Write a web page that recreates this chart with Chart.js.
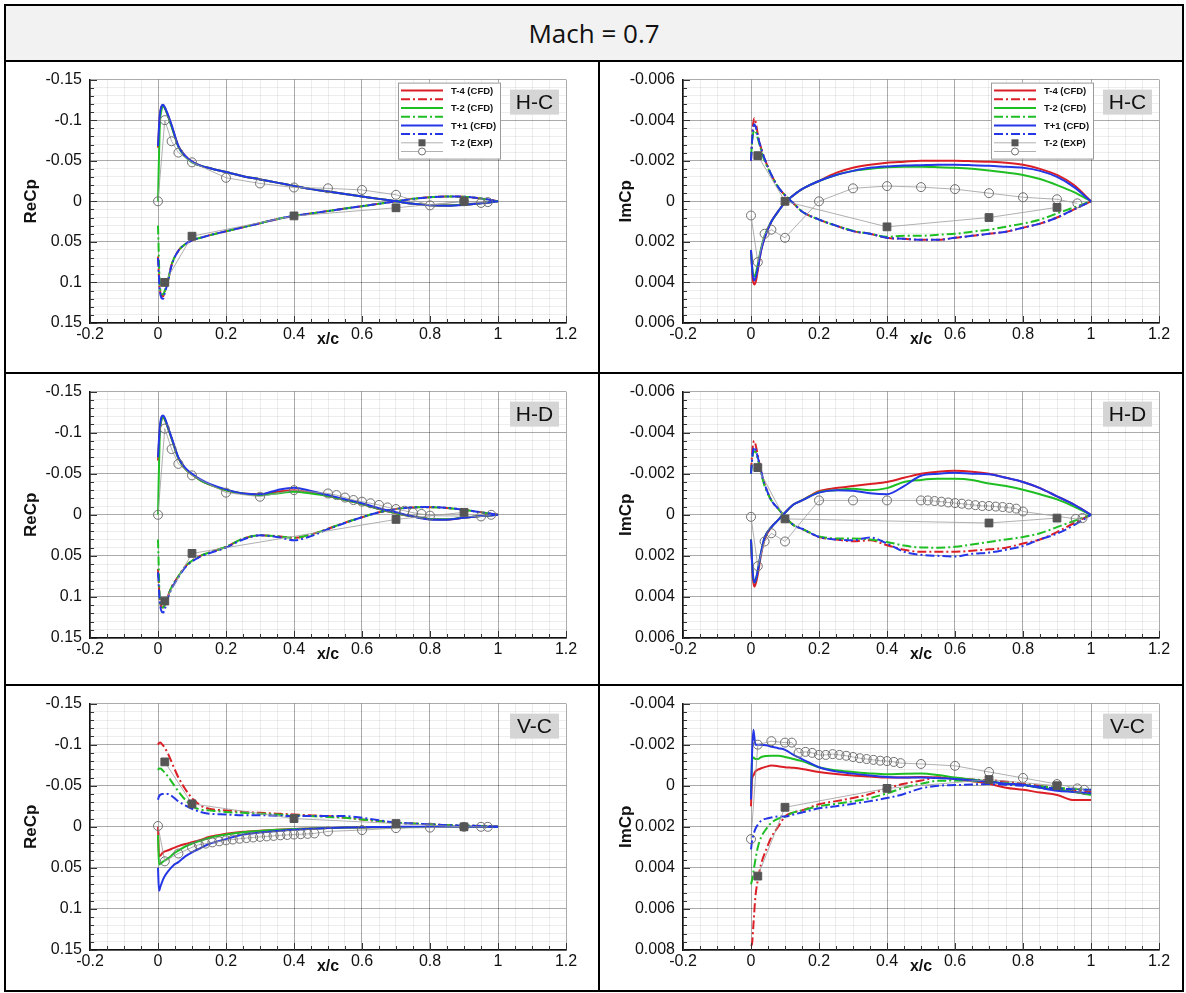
<!DOCTYPE html>
<html>
<head>
<meta charset="utf-8">
<title>Mach = 0.7</title>
<script src="https://cdn.jsdelivr.net/npm/chart.js@4.4.1/dist/chart.umd.min.js"></script>
<style>
  body { margin: 0; background: #fff; }
  #sheet { position: relative; width: 1186px; height: 993px; overflow: hidden; }
  #head { position: absolute; left: 6px; top: 6px; width: 1176px; height: 54px; background: #f2f2f2;
          display: flex; align-items: center; justify-content: center;
          font: 26px "Liberation Sans Narrow", "Open Sans", sans-serif; color: #111; }
  .rule { position: absolute; background: #000; }
  canvas { position: absolute; }
</style>
</head>
<body>
<div id="sheet">
  <div id="head">Mach = 0.7</div>
  <canvas id="p1" width="592" height="310" style="left:6px;top:62px"></canvas>
  <canvas id="p2" width="582" height="310" style="left:600px;top:62px"></canvas>
  <canvas id="p3" width="592" height="310" style="left:6px;top:374px"></canvas>
  <canvas id="p4" width="582" height="310" style="left:600px;top:374px"></canvas>
  <canvas id="p5" width="592" height="304" style="left:6px;top:686px"></canvas>
  <canvas id="p6" width="582" height="304" style="left:600px;top:686px"></canvas>
  <div class="rule" style="left:4px;top:4px;width:1180px;height:2px"></div>
  <div class="rule" style="left:4px;top:4px;width:2px;height:988px"></div>
  <div class="rule" style="left:1182px;top:4px;width:2px;height:988px"></div>
  <div class="rule" style="left:4px;top:990px;width:1180px;height:2px"></div>
  <div class="rule" style="left:4px;top:60px;width:1180px;height:2px"></div>
  <div class="rule" style="left:4px;top:372px;width:1180px;height:2px"></div>
  <div class="rule" style="left:4px;top:684px;width:1180px;height:2px"></div>
  <div class="rule" style="left:598px;top:60px;width:2px;height:932px"></div>
</div>
<script>
// chordwise stations of the CFD curves (x/c)
const xH = [0, 0.005, 0.01, 0.015, 0.02, 0.03, 0.04, 0.06, 0.08, 0.1, 0.125, 0.15, 0.2, 0.25, 0.3, 0.35, 0.4, 0.45, 0.5, 0.55, 0.6, 0.65, 0.7, 0.75, 0.8, 0.85, 0.9, 0.95, 1.0];
const xV = [0, 0.003, 0.007, 0.013, 0.02, 0.03, 0.045, 0.06, 0.08, 0.1, 0.125, 0.15, 0.2, 0.25, 0.3, 0.35, 0.4, 0.45, 0.5, 0.55, 0.6, 0.65, 0.7, 0.75, 0.8, 0.85, 0.9, 0.95, 1.0];

// H-C, ReCp (s = solid, d = dash-dot)
const hcReT4s = [-0.066, -0.103, -0.116, -0.118, -0.115, -0.105, -0.093, -0.068, -0.056, -0.049, -0.044, -0.041, -0.036, -0.031, -0.027, -0.023, -0.019, -0.015, -0.012, -0.009, -0.006, -0.003, 0.0, 0.003, 0.0048, 0.0053, 0.0043, 0.0024, 0];
const hcReT4d = [0.068, 0.106, 0.116, 0.117, 0.111, 0.097, 0.078, 0.061, 0.053, 0.048, 0.045, 0.042, 0.037, 0.032, 0.027, 0.022, 0.018, 0.015, 0.012, 0.009, 0.006, 0.003, 0.0, -0.003, -0.005, -0.0058, -0.0055, -0.0035, 0];
const hcReT2s = [0.0, -0.09, -0.112, -0.117, -0.115, -0.104, -0.092, -0.067, -0.055, -0.048, -0.044, -0.041, -0.036, -0.031, -0.027, -0.023, -0.019, -0.015, -0.012, -0.009, -0.006, -0.003, 0.0, 0.003, 0.0048, 0.0053, 0.0043, 0.0024, 0];
const hcReT2d = [0.03, 0.1, 0.113, 0.115, 0.11, 0.096, 0.078, 0.061, 0.053, 0.048, 0.045, 0.042, 0.037, 0.032, 0.027, 0.022, 0.018, 0.015, 0.012, 0.009, 0.006, 0.003, 0.0, -0.003, -0.005, -0.0058, -0.0055, -0.0035, 0];
const hcReT1s = [-0.068, -0.105, -0.117, -0.119, -0.116, -0.106, -0.094, -0.068, -0.056, -0.049, -0.044, -0.041, -0.036, -0.031, -0.027, -0.023, -0.019, -0.015, -0.012, -0.009, -0.006, -0.003, 0.0, 0.003, 0.005, 0.0055, 0.0045, 0.0025, 0];
const hcReT1d = [0.07, 0.108, 0.119, 0.12, 0.113, 0.098, 0.079, 0.061, 0.053, 0.048, 0.045, 0.042, 0.037, 0.032, 0.027, 0.022, 0.018, 0.015, 0.012, 0.009, 0.006, 0.003, 0.0, -0.003, -0.005, -0.006, -0.0057, -0.0036, 0];
const hcReSqX = [0.02, 0.1, 0.4, 0.7, 0.9];
const hcReSqY = [0.1, 0.043, 0.018, 0.008, 0.0];
const hcReCiX = [0, 0.02, 0.04, 0.06, 0.1, 0.2, 0.3, 0.4, 0.5, 0.6, 0.7, 0.8, 0.9, 0.95, 0.97];
const hcReCiY = [0, -0.1, -0.074, -0.06, -0.048, -0.029, -0.022, -0.017, -0.016, -0.014, -0.008, 0.005, 0.0, 0.002, 0.001];

// H-C, ImCp
const hcImT4s = [0.0024, 0.0038, 0.0041, 0.0039, 0.0034, 0.0024, 0.0018, 0.001, 0.0005, 0.00005, -0.0003, -0.0006, -0.001, -0.0014, -0.00165, -0.0018, -0.0019, -0.00195, -0.002, -0.002, -0.002, -0.00198, -0.00195, -0.0019, -0.0018, -0.0016, -0.0013, -0.0008, 0];
const hcImT4d = [-0.002, -0.0036, -0.0041, -0.0038, -0.0033, -0.0026, -0.0021, -0.0013, -0.0007, -0.0003, 0.0001, 0.0005, 0.0009, 0.0012, 0.00147, 0.0016, 0.0018, 0.00185, 0.0019, 0.0019, 0.0018, 0.0017, 0.0016, 0.0015, 0.0013, 0.0011, 0.0008, 0.0004, 0];
const hcImT2s = [0.0025, 0.0035, 0.0037, 0.0035, 0.0031, 0.0023, 0.0017, 0.001, 0.0005, 0.00005, -0.0003, -0.0006, -0.001, -0.0013, -0.0015, -0.0016, -0.00168, -0.0017, -0.0017, -0.00168, -0.00165, -0.0016, -0.00152, -0.00142, -0.0013, -0.0011, -0.0008, -0.00045, 0];
const hcImT2d = [-0.0022, -0.0032, -0.0035, -0.0034, -0.0031, -0.0025, -0.002, -0.0013, -0.0007, -0.0003, 0.0001, 0.0005, 0.0009, 0.0012, 0.00145, 0.0016, 0.00175, 0.0017, 0.0017, 0.00165, 0.0016, 0.0015, 0.0014, 0.00125, 0.0011, 0.0009, 0.0006, 0.0003, 0];
const hcImT1s = [0.0024, 0.0036, 0.0039, 0.0037, 0.0033, 0.0024, 0.0018, 0.001, 0.0005, 0.00005, -0.0003, -0.0006, -0.001, -0.0013, -0.0015, -0.00165, -0.00172, -0.00176, -0.00178, -0.0018, -0.0018, -0.00178, -0.00175, -0.0017, -0.00165, -0.0015, -0.0012, -0.0007, 0];
const hcImT1d = [-0.002, -0.0034, -0.0038, -0.0036, -0.0032, -0.0026, -0.0021, -0.0013, -0.0007, -0.0003, 0.0001, 0.0005, 0.0009, 0.0012, 0.00147, 0.0016, 0.0018, 0.00185, 0.0019, 0.0019, 0.0018, 0.0017, 0.0016, 0.0015, 0.0013, 0.0011, 0.0008, 0.0004, 0];
const hcImSqX = [0.02, 0.1, 0.4, 0.7, 0.9];
const hcImSqY = [-0.00225, 0.0, 0.00126, 0.0008, 0.0003];
const hcImCiX = [0, 0.02, 0.04, 0.06, 0.1, 0.2, 0.3, 0.4, 0.5, 0.6, 0.7, 0.8, 0.9, 0.96];
const hcImCiY = [0.0007, 0.003, 0.0016, 0.0014, 0.0018, 0.0, -0.00064, -0.00075, -0.0007, -0.0006, -0.0004, -0.0002, -0.0001, 0.0001];

// H-D, ReCp
const hdReT4s = [-0.066, -0.102, -0.116, -0.119, -0.116, -0.105, -0.093, -0.069, -0.056, -0.049, -0.042, -0.037, -0.03, -0.026, -0.025, -0.028, -0.03, -0.027, -0.023, -0.018, -0.013, -0.007, -0.002, 0.002, 0.0052, 0.0058, 0.0035, 0.0015, 0];
const hdReT4d = [0.066, 0.102, 0.112, 0.113, 0.11, 0.098, 0.088, 0.075, 0.063, 0.056, 0.05, 0.046, 0.039, 0.029, 0.025, 0.026, 0.028, 0.024, 0.017, 0.0095, 0.003, -0.003, -0.007, -0.009, -0.0093, -0.0083, -0.006, -0.003, 0];
const hdReT2s = [0.0, -0.095, -0.115, -0.119, -0.116, -0.105, -0.093, -0.069, -0.056, -0.049, -0.042, -0.037, -0.03, -0.026, -0.024, -0.026, -0.028, -0.026, -0.023, -0.018, -0.013, -0.007, -0.002, 0.002, 0.005, 0.0055, 0.0034, 0.0014, 0];
const hdReT2d = [0.03, 0.1, 0.112, 0.113, 0.11, 0.098, 0.088, 0.075, 0.063, 0.056, 0.05, 0.046, 0.039, 0.029, 0.025, 0.026, 0.028, 0.024, 0.017, 0.0095, 0.003, -0.003, -0.007, -0.009, -0.0093, -0.0083, -0.006, -0.003, 0];
const hdReT1s = [-0.07, -0.105, -0.119, -0.121, -0.118, -0.106, -0.094, -0.07, -0.057, -0.05, -0.043, -0.038, -0.031, -0.026, -0.025, -0.03, -0.033, -0.029, -0.024, -0.019, -0.014, -0.008, -0.003, 0.002, 0.0056, 0.006, 0.0036, 0.0015, 0];
const hdReT1d = [0.07, 0.105, 0.117, 0.119, 0.115, 0.1, 0.09, 0.076, 0.064, 0.057, 0.051, 0.047, 0.04, 0.03, 0.025, 0.027, 0.031, 0.026, 0.0175, 0.01, 0.003, -0.003, -0.007, -0.009, -0.0095, -0.0085, -0.006, -0.003, 0];
const hdReSqX = [0.02, 0.1, 0.7, 0.9];
const hdReSqY = [0.105, 0.047, 0.0056, -0.003];
const hdReCiX = [0, 0.02, 0.04, 0.06, 0.1, 0.2, 0.3, 0.4, 0.5, 0.525, 0.55, 0.575, 0.6, 0.625, 0.65, 0.675, 0.7, 0.725, 0.75, 0.775, 0.8, 0.95, 0.98];
const hdReCiY = [0, -0.105, -0.08, -0.062, -0.048, -0.027, -0.022, -0.03, -0.026, -0.024, -0.021, -0.018, -0.016, -0.014, -0.012, -0.009, -0.007, -0.005, -0.0025, -0.001, 0.001, 0.002, 0.0];

// H-D, ImCp
const hdImT4s = [0.0012, 0.003, 0.0035, 0.0033, 0.0029, 0.0019, 0.0012, 0.0006, 0.00025, -0.0001, -0.0005, -0.0007, -0.00115, -0.0013, -0.0014, -0.0015, -0.0016, -0.0018, -0.002, -0.0021, -0.00214, -0.0021, -0.002, -0.0018, -0.0016, -0.0013, -0.0009, -0.0005, 0];
const hdImT4d = [-0.0021, -0.0033, -0.0036, -0.0033, -0.0029, -0.0021, -0.0015, -0.0007, -0.0003, 0.0001, 0.0005, 0.00068, 0.00108, 0.0012, 0.00129, 0.00124, 0.00148, 0.0017, 0.0018, 0.0018, 0.0018, 0.00175, 0.00168, 0.0016, 0.0014, 0.0012, 0.00084, 0.0004, 0];
const hdImT2s = [0.0012, 0.0028, 0.0033, 0.0031, 0.0027, 0.0018, 0.0011, 0.0006, 0.00025, -0.0001, -0.0005, -0.0007, -0.0011, -0.0012, -0.00127, -0.0012, -0.0013, -0.0016, -0.0017, -0.00175, -0.00175, -0.0017, -0.00152, -0.0014, -0.00122, -0.001, -0.00075, -0.0004, 0];
const hdImT2d = [-0.002, -0.0029, -0.0031, -0.003, -0.0027, -0.002, -0.0014, -0.0007, -0.0003, 0.0001, 0.0005, 0.00068, 0.00105, 0.00115, 0.00116, 0.0012, 0.00132, 0.0015, 0.00159, 0.0016, 0.00156, 0.00145, 0.00132, 0.0012, 0.00108, 0.0009, 0.0006, 0.0003, 0];
const hdImT1s = [0.0012, 0.0028, 0.0033, 0.0031, 0.0027, 0.0018, 0.0011, 0.0006, 0.00025, -0.0001, -0.0005, -0.0007, -0.00108, -0.0012, -0.00117, -0.00105, -0.001, -0.0014, -0.0019, -0.002, -0.00205, -0.002, -0.00197, -0.0018, -0.0016, -0.0013, -0.0009, -0.0005, 0];
const hdImT1d = [-0.002, -0.003, -0.0033, -0.0031, -0.0028, -0.0021, -0.0015, -0.0007, -0.0003, 0.0001, 0.0005, 0.00068, 0.00108, 0.0012, 0.00124, 0.0011, 0.0014, 0.0018, 0.00195, 0.002, 0.00203, 0.0019, 0.00184, 0.0017, 0.00152, 0.0012, 0.00092, 0.0005, 0];
const hdImSqX = [0.02, 0.1, 0.7, 0.9];
const hdImSqY = [-0.0023, 0.0002, 0.0004, 0.00016];
const hdImCiX = [0, 0.02, 0.04, 0.06, 0.1, 0.2, 0.3, 0.4, 0.5, 0.52, 0.54, 0.56, 0.58, 0.6, 0.62, 0.64, 0.66, 0.68, 0.7, 0.72, 0.74, 0.76, 0.78, 0.8, 0.955, 0.975];
const hdImCiY = [0.0001, 0.0025, 0.0013, 0.0009, 0.0013, -0.0007, -0.0007, -0.0007, -0.0007, -0.0007, -0.00067, -0.00064, -0.0006, -0.00057, -0.00054, -0.0005, -0.00047, -0.00043, -0.00043, -0.0004, -0.00038, -0.00034, -0.0003, -0.00016, 0.0002, 0.00016];

// V-C, ReCp
const vcReT4s = [0.0, 0.036, 0.035, 0.032, 0.03, 0.0286, 0.026, 0.0235, 0.021, 0.0188, 0.016, 0.0125, 0.0085, 0.006, 0.0047, 0.0036, 0.0028, 0.002, 0.0015, 0.001, 0.0008, 0.0006, 0.0004, 0.0003, 0.0002, 0.0001, 0.0, 0.0, 0];
const vcReT4d = [-0.1, -0.102, -0.1025, -0.1, -0.096, -0.0885, -0.074, -0.06, -0.046, -0.035, -0.026, -0.022, -0.02, -0.018, -0.017, -0.016, -0.015, -0.014, -0.013, -0.011, -0.009, -0.007, -0.005, -0.004, -0.003, -0.002, -0.0015, -0.001, 0];
const vcReT2s = [0.01, 0.046, 0.045, 0.043, 0.041, 0.0385, 0.033, 0.029, 0.024, 0.0205, 0.017, 0.0137, 0.0095, 0.0065, 0.005, 0.0037, 0.0028, 0.002, 0.0015, 0.001, 0.0008, 0.0006, 0.0004, 0.0003, 0.0002, 0.0001, 0.0, 0.0, 0];
const vcReT2d = [-0.069, -0.071, -0.071, -0.069, -0.066, -0.061, -0.052, -0.043, -0.033, -0.025, -0.021, -0.02, -0.018, -0.017, -0.016, -0.015, -0.014, -0.013, -0.012, -0.011, -0.009, -0.007, -0.005, -0.004, -0.003, -0.002, -0.0015, -0.001, 0];
const vcReT1s = [0.05, 0.078, 0.073, 0.066, 0.06, 0.054, 0.047, 0.043, 0.036, 0.031, 0.026, 0.021, 0.015, 0.0095, 0.007, 0.005, 0.0036, 0.0025, 0.0015, 0.0008, 0.0004, 0.0002, 0.0, 0.0, 0.0, 0.0, 0.0, 0.0, 0];
const vcReT1d = [-0.033, -0.037, -0.039, -0.04, -0.04, -0.04, -0.036, -0.031, -0.026, -0.022, -0.018, -0.016, -0.015, -0.014, -0.014, -0.0135, -0.013, -0.013, -0.013, -0.013, -0.011, -0.008, -0.005, -0.004, -0.003, -0.002, -0.0015, -0.001, 0];
const vcReSqX = [0.02, 0.1, 0.4, 0.7, 0.9];
const vcReSqY = [-0.079, -0.028, -0.01, -0.004, 0.0];
const vcReCiX = [0, 0.02, 0.06, 0.1, 0.12, 0.14, 0.16, 0.18, 0.2, 0.22, 0.24, 0.26, 0.28, 0.3, 0.32, 0.34, 0.36, 0.38, 0.4, 0.42, 0.44, 0.46, 0.5, 0.6, 0.7, 0.8, 0.9, 0.95, 0.97];
const vcReCiY = [-0.001, 0.042, 0.0325, 0.025, 0.0218, 0.0205, 0.019, 0.0177, 0.0165, 0.0155, 0.0145, 0.0137, 0.013, 0.0123, 0.0117, 0.0111, 0.0104, 0.0099, 0.0094, 0.009, 0.0086, 0.0081, 0.0056, 0.004, 0.0016, 0.001, 0.0, 0.0, 0.0];

// V-C, ImCp
const vcImT4s = [0.001, -0.0003, -0.0005, -0.0007, -0.00078, -0.00085, -0.00093, -0.00098, -0.00095, -0.0009, -0.00087, -0.00082, -0.00067, -0.00057, -0.0005, -0.00045, -0.0004, -0.0004, -0.00043, -0.0004, -0.00033, -0.00022, -0.0001, 0.0001, 0.0002, 0.00033, 0.00045, 0.0007, 0.0007];
const vcImT4d = [0.0078, 0.0077, 0.0068, 0.0054, 0.0046, 0.0038, 0.0031, 0.0025, 0.002, 0.0015, 0.0013, 0.0012, 0.0009, 0.00075, 0.0006, 0.0004, 0.00013, -0.0001, -0.00025, -0.0004, -0.00038, -0.0003, -0.00027, -0.0002, -0.0001, 0.0, 0.00013, 0.00022, 0.0003];
const vcImT2s = [0.0005, -0.0012, -0.00138, -0.0013, -0.0013, -0.0014, -0.00145, -0.00146, -0.00146, -0.0014, -0.0013, -0.0012, -0.0009, -0.00075, -0.00067, -0.0006, -0.00056, -0.00058, -0.00059, -0.00052, -0.0004, -0.0003, -0.0002, -0.0001, -0.00003, 0.0001, 0.00018, 0.0003, 0.00045];
const vcImT2d = [0.0048, 0.0046, 0.0042, 0.0036, 0.003, 0.0025, 0.0021, 0.0018, 0.0016, 0.0015, 0.0013, 0.0012, 0.001, 0.00088, 0.00076, 0.0006, 0.00037, 0.0001, -0.0001, -0.00024, -0.00025, -0.00023, -0.0002, -0.00012, -0.00005, 0.00003, 0.0001, 0.00015, 0.0002];
const vcImT1s = [0.00067, -0.0015, -0.00273, -0.002, -0.002, -0.002, -0.00197, -0.0019, -0.00183, -0.00175, -0.0015, -0.0013, -0.0009, -0.0007, -0.00059, -0.0005, -0.00043, -0.0004, -0.0004, -0.00038, -0.00033, -0.00027, -0.0002, -0.0001, -0.00005, 0.0001, 0.00024, 0.0003, 0.00037];
const vcImT1d = [0.0031, 0.0027, 0.0024, 0.0021, 0.0019, 0.0017, 0.0016, 0.00155, 0.0015, 0.0015, 0.0014, 0.0013, 0.0011, 0.001, 0.00088, 0.00075, 0.0006, 0.0004, 0.00013, 0.0, -0.00003, -0.00006, -0.00008, -0.00005, 0.0, 0.00005, 0.00013, 0.00017, 0.0002];
const vcImSqX = [0.02, 0.1, 0.4, 0.7, 0.9];
const vcImSqY = [0.0044, 0.00105, 0.00013, -0.0003, 0.0];
const vcImCiX = [0, 0.02, 0.06, 0.1, 0.12, 0.14, 0.16, 0.18, 0.2, 0.22, 0.24, 0.26, 0.28, 0.3, 0.32, 0.34, 0.36, 0.38, 0.4, 0.42, 0.44, 0.5, 0.6, 0.7, 0.8, 0.9, 0.96, 0.98];
const vcImCiY = [0.0026, -0.002, -0.00217, -0.0021, -0.0021, -0.0016, -0.00165, -0.0016, -0.0015, -0.0015, -0.00154, -0.0015, -0.00146, -0.0014, -0.00134, -0.0013, -0.00126, -0.00122, -0.0012, -0.00116, -0.0011, -0.00106, -0.00097, -0.00067, -0.00038, -0.00008, 0.00013, 0.0002];

const xTicks = [-0.2, 0, 0.2, 0.4, 0.6, 0.8, 1, 1.2];

const FONT = '"Liberation Sans", Arial, Helvetica, sans-serif';
Chart.defaults.font.family = FONT;
Chart.defaults.color = '#111';

const RED = '#db1f26', GREEN = '#1fbf24', BLUE = '#2436e6';
const DASH = [9, 3, 2, 3];
const MAJOR_GRID = 'rgba(0,0,0,0.33)', MINOR_GRID = 'rgba(0,0,0,0.07)';

const xy = (xs, ys) => xs.map((x, i) => ({ x, y: ys[i] }));
const isMajor = (v, step) => Math.abs(v / step - Math.round(v / step)) < 1e-6;
const fmt = v => String(+v.toFixed(6));

function cfd(label, color, xs, ys, dashed, row, order) {
  return {
    label, data: xy(xs, ys), borderColor: color, backgroundColor: color,
    borderWidth: 2, borderDash: dashed ? DASH : [], pointRadius: 0,
    cubicInterpolationMode: 'monotone', order, legendRow: row,
    legendText: dashed ? null : label
  };
}

function exp(xs, ys, style, row) {
  const sq = style === 'rect';
  return {
    label: 'T-2 (EXP)', data: xy(xs, ys), borderColor: '#9c9c9c', borderWidth: 0.8,
    pointStyle: style, pointRadius: sq ? 5.5 : 4.5,
    pointBackgroundColor: sq ? '#555' : 'rgba(255,255,255,0)',
    pointBorderColor: sq ? '#555' : '#707070', pointBorderWidth: 1,
    tension: 0, order: 0, legendRow: row, legendText: sq ? 'T-2 (EXP)' : null
  };
}

const panelDecor = {
  id: 'panelDecor',
  afterDatasetsDraw(chart, args, opts) {
    const { ctx, chartArea: a, scales } = chart;
    ctx.save();
    // inward tick marks on left and bottom axes
    ctx.strokeStyle = '#333';
    ctx.lineWidth = 1;
    ctx.beginPath();
    scales.y.ticks.forEach(t => {
      const p = Math.round(scales.y.getPixelForValue(t.value)) + 0.5;
      const len = isMajor(t.value, opts.yMajor) ? 7 : 4;
      ctx.moveTo(a.left, p); ctx.lineTo(a.left + len, p);
    });
    scales.x.ticks.forEach(t => {
      const p = Math.round(scales.x.getPixelForValue(t.value)) + 0.5;
      const len = isMajor(t.value, 0.2) ? 7 : 4;
      ctx.moveTo(p, a.bottom); ctx.lineTo(p, a.bottom - len);
    });
    ctx.stroke();

    // configuration tag (H-C, H-D, V-C)
    ctx.fillStyle = '#d5d5d5';
    ctx.fillRect(a.right - 56, a.top + 10, 49, 25);
    ctx.fillStyle = '#111';
    ctx.font = '21px ' + FONT;
    ctx.textAlign = 'center';
    ctx.textBaseline = 'middle';
    ctx.fillText(opts.tag, a.right - 31.5, a.top + 23.5);

    if (opts.legend) {
      const bx = a.right - 168, by = a.top + 3, bw = 102, bh = 76;
      ctx.fillStyle = '#fff';
      ctx.fillRect(bx, by, bw, bh);
      ctx.strokeStyle = '#9a9a9a';
      ctx.strokeRect(bx + 0.5, by + 0.5, bw, bh);
      ctx.font = 'bold 9.5px ' + FONT;
      ctx.textAlign = 'left';
      chart.data.datasets.forEach(ds => {
        const y = by + 8 + ds.legendRow * 8.7;
        ctx.setLineDash(ds.borderDash || []);
        ctx.strokeStyle = ds.borderColor;
        ctx.lineWidth = ds.borderWidth;
        ctx.beginPath();
        ctx.moveTo(bx + 3, y); ctx.lineTo(bx + 45, y);
        ctx.stroke();
        ctx.setLineDash([]);
        if (ds.pointStyle === 'rect') {
          ctx.fillStyle = ds.pointBackgroundColor;
          ctx.fillRect(bx + 20.5, y - 3.5, 7, 7);
        } else if (ds.pointStyle) {
          ctx.fillStyle = '#fff';
          ctx.strokeStyle = ds.pointBorderColor;
          ctx.lineWidth = 1;
          ctx.beginPath();
          ctx.arc(bx + 24, y, 3.5, 0, Math.PI * 2);
          ctx.fill(); ctx.stroke();
        }
        if (ds.legendText) {
          ctx.fillStyle = '#111';
          ctx.fillText(ds.legendText, bx + 53, y + 0.5);
        }
      });
    }
    ctx.restore();
  }
};

const ROWS = [
  { padTop: 11, plotH: 250, canvasH: 310 },
  { padTop: 12, plotH: 252, canvasH: 310 },
  { padTop: 12, plotH: 252, canvasH: 304 }
];
const COLS = [
  { yW: 84, padRight: 32, titlePad: 15 },
  { yW: 83, padRight: 23, titlePad: 16 }
];
const X_AXIS_H = 26;

function build(id, row, col, p) {
  const r = ROWS[row], c = COLS[col];
  const minor = p.yMajor / 5;
  const datasets = [
    cfd('T-4 (CFD)', RED, p.xs, p.t4s, false, 0, 3),
    cfd('T-4 (CFD)', RED, p.xs, p.t4d, true, 1, 3),
    cfd('T-2 (CFD)', GREEN, p.xs, p.t2s, false, 2, 2),
    cfd('T-2 (CFD)', GREEN, p.xs, p.t2d, true, 3, 2),
    cfd('T+1 (CFD)', BLUE, p.xs, p.t1s, false, 4, 1),
    cfd('T+1 (CFD)', BLUE, p.xs, p.t1d, true, 5, 1),
    exp(p.sqX, p.sqY, 'rect', 6),
    exp(p.ciX, p.ciY, 'circle', 7)
  ];
  return new Chart(document.getElementById(id), {
    type: 'line',
    data: { datasets },
    options: {
      responsive: false,
      animation: false,
      layout: { padding: { top: r.padTop, right: c.padRight, left: 0,
                           bottom: r.canvasH - r.padTop - r.plotH - X_AXIS_H } },
      plugins: {
        legend: { display: false },
        tooltip: { enabled: false },
        panelDecor: { tag: p.tag, legend: p.legend, yMajor: p.yMajor }
      },
      scales: {
        x: {
          type: 'linear', min: -0.2, max: 1.2,
          afterFit: s => { s.height = X_AXIS_H; },
          ticks: {
            stepSize: 0.05, autoSkip: false, maxRotation: 0, padding: 2,
            font: { size: 16 }, color: '#111',
            callback: v => xTicks.some(t => Math.abs(t - v) < 1e-6) ? fmt(v) : ''
          },
          grid: {
            drawTicks: false, lineWidth: 1,
            color: ctx => isMajor(ctx.tick.value, 0.2) ? MAJOR_GRID : MINOR_GRID
          },
          border: { color: '#111', width: 1.5 },
          title: { display: true, text: 'x/c', font: { size: 16, weight: 'bold' },
                   padding: { top: 0, bottom: 0 }, color: '#111' }
        },
        y: {
          type: 'linear', reverse: true, min: p.yMin, max: p.yMax,
          afterFit: s => { s.width = c.yW; },
          ticks: {
            stepSize: minor, autoSkip: false, padding: 8,
            font: { size: 16 }, color: '#111',
            callback: v => isMajor(v, p.yMajor) ? fmt(v) : ''
          },
          grid: {
            drawTicks: false, lineWidth: 1,
            color: ctx => isMajor(ctx.tick.value, p.yMajor) ? MAJOR_GRID : MINOR_GRID
          },
          border: { color: '#111', width: 1.5 },
          title: { display: true, text: p.yTitle, font: { size: 17, weight: 'bold' },
                   padding: { top: c.titlePad, bottom: 0 }, color: '#111' }
        }
      }
    },
    plugins: [panelDecor]
  });
}

build('p1', 0, 0, { xs: xH, t4s: hcReT4s, t4d: hcReT4d, t2s: hcReT2s, t2d: hcReT2d, t1s: hcReT1s, t1d: hcReT1d,
  sqX: hcReSqX, sqY: hcReSqY, ciX: hcReCiX, ciY: hcReCiY,
  yMin: -0.15, yMax: 0.15, yMajor: 0.05, yTitle: 'ReCp', tag: 'H-C', legend: true });
build('p2', 0, 1, { xs: xH, t4s: hcImT4s, t4d: hcImT4d, t2s: hcImT2s, t2d: hcImT2d, t1s: hcImT1s, t1d: hcImT1d,
  sqX: hcImSqX, sqY: hcImSqY, ciX: hcImCiX, ciY: hcImCiY,
  yMin: -0.006, yMax: 0.006, yMajor: 0.002, yTitle: 'ImCp', tag: 'H-C', legend: true });
build('p3', 1, 0, { xs: xH, t4s: hdReT4s, t4d: hdReT4d, t2s: hdReT2s, t2d: hdReT2d, t1s: hdReT1s, t1d: hdReT1d,
  sqX: hdReSqX, sqY: hdReSqY, ciX: hdReCiX, ciY: hdReCiY,
  yMin: -0.15, yMax: 0.15, yMajor: 0.05, yTitle: 'ReCp', tag: 'H-D', legend: false });
build('p4', 1, 1, { xs: xH, t4s: hdImT4s, t4d: hdImT4d, t2s: hdImT2s, t2d: hdImT2d, t1s: hdImT1s, t1d: hdImT1d,
  sqX: hdImSqX, sqY: hdImSqY, ciX: hdImCiX, ciY: hdImCiY,
  yMin: -0.006, yMax: 0.006, yMajor: 0.002, yTitle: 'ImCp', tag: 'H-D', legend: false });
build('p5', 2, 0, { xs: xV, t4s: vcReT4s, t4d: vcReT4d, t2s: vcReT2s, t2d: vcReT2d, t1s: vcReT1s, t1d: vcReT1d,
  sqX: vcReSqX, sqY: vcReSqY, ciX: vcReCiX, ciY: vcReCiY,
  yMin: -0.15, yMax: 0.15, yMajor: 0.05, yTitle: 'ReCp', tag: 'V-C', legend: false });
build('p6', 2, 1, { xs: xV, t4s: vcImT4s, t4d: vcImT4d, t2s: vcImT2s, t2d: vcImT2d, t1s: vcImT1s, t1d: vcImT1d,
  sqX: vcImSqX, sqY: vcImSqY, ciX: vcImCiX, ciY: vcImCiY,
  yMin: -0.004, yMax: 0.008, yMajor: 0.002, yTitle: 'ImCp', tag: 'V-C', legend: false });
</script>
</body>
</html>
